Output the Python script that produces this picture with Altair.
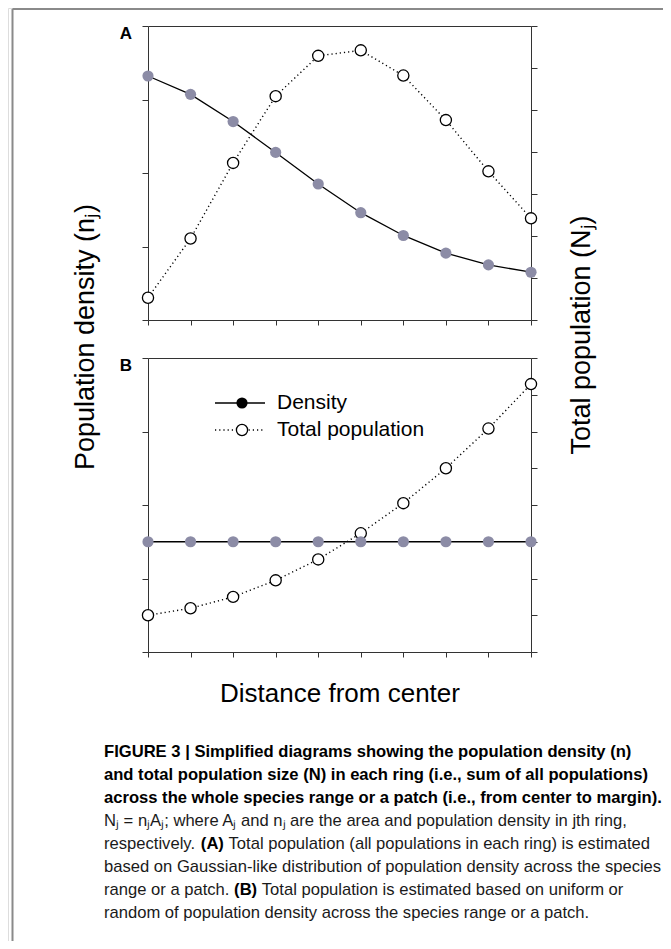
import altair as alt
import pandas as pd

# ---- data ----
dist = list(range(10))
density_a = [3.32, 3.07, 2.70, 2.28, 1.85, 1.46, 1.15, 0.91, 0.75, 0.65]
total_a = [0.53, 1.94, 3.74, 5.33, 6.29, 6.42, 5.82, 4.76, 3.54, 2.42]
density_b = [1.5, 1.5, 1.5, 1.5, 1.5, 1.5, 1.5, 1.5, 1.5, 1.5]
total_b = [1.00, 1.19, 1.50, 1.95, 2.52, 3.23, 4.05, 5.00, 6.08, 7.29]

left_ticks = [0, 1, 2, 3, 4]
right_ticks_a = list(range(8))
right_ticks_b = list(range(9))

y_title_left = "Population density (nⱼ)"
y_title_right = "Total population (Nⱼ)"
x_title = "Distance from center"
legend_labels = ["Density", "Total population"]
panel_labels = ["A", "B"]

caption_bold = [
    "FIGURE 3 | Simplified diagrams showing the population density (n)",
    "and total population size (N) in each ring (i.e., sum of all populations)",
    "across the whole species range or a patch (i.e., from center to margin).",
]
caption_regular = [
    "Nⱼ = nⱼAⱼ; where Aⱼ and nⱼ are the area and population density in jth ring,",
    "respectively.",
    "based on Gaussian-like distribution of population density across the species",
    "range or a patch.",
    "random of population density across the species range or a patch.",
]
caption_regular_rows = [3, 4, 5, 6, 7]
caption_tail = [
    "Total population (all populations in each ring) is estimated",
    "Total population is estimated based on uniform or",
]
caption_tail_rows = [4, 6]
caption_inline_bold = ["(A)", "(B)"]

W, H = 655, 933
FONT = "Liberation Sans, Arial, Helvetica, sans-serif"
CAP_FONT = "Liberation Sans, Arial, Helvetica, sans-serif"
CAP_SIZE = 16.6
AX = "#333333"
GRAY = "#8c8ca6"

XR = [140, 523]
A_R = [312, 18]
B_R = [644, 350]


def xenc(bottom_y=None, top_y=None):
    if bottom_y is not None:
        ax = alt.Axis(orient="bottom", offset=-(H - bottom_y), values=dist, labels=False,
                      title=None, grid=False, tickSize=5, domainColor=AX, tickColor=AX)
    else:
        ax = alt.Axis(orient="top", offset=-top_y, labels=False, ticks=False,
                      title=None, grid=False, domainColor=AX)
    return alt.X("d:Q", scale=alt.Scale(domain=[0, 9], range=XR, nice=False, zero=False), axis=ax)


def yenc(field, dom, rng, orient, values):
    off = -XR[0] if orient == "left" else -(W - XR[1])
    ax = alt.Axis(orient=orient, offset=off, values=values, labels=False, title=None,
                  grid=False, tickSize=6, domainColor=AX, tickColor=AX)
    return alt.Y(field + ":Q", scale=alt.Scale(domain=dom, range=rng, nice=False, zero=False), axis=ax)


dfa = pd.DataFrame({"d": dist, "dens": density_a, "tot": total_a})
dfb = pd.DataFrame({"d": dist, "dens": density_b, "tot": total_b})


def density_layer(df, rng, bottom_y):
    base = alt.Chart(df).encode(x=xenc(bottom_y=bottom_y),
                                y=yenc("dens", [0, 4], rng, "left", left_ticks))
    return alt.layer(
        base.mark_line(color="black", strokeWidth=1.3),
        base.mark_circle(size=125, color=GRAY, opacity=1),
    )


def total_layer(df, dom, rng, top_y, ticks):
    base = alt.Chart(df).encode(x=xenc(top_y=top_y),
                                y=yenc("tot", dom, rng, "right", ticks))
    return alt.layer(
        base.mark_line(color="black", strokeWidth=1.4, strokeDash=[1.2, 3]),
        base.mark_point(shape="circle", size=125, filled=True, fill="white",
                        stroke="black", strokeWidth=1.3, opacity=1),
    )


layer_a_tot = total_layer(dfa, [0, 7], A_R, 18, right_ticks_a)
layer_a_den = density_layer(dfa, A_R, 312)
layer_b_tot = total_layer(dfb, [0, 8], B_R, 350, right_ticks_b)
layer_b_den = density_layer(dfb, B_R, 644)

one = pd.DataFrame({"k": [0]})

# frame border
frame = alt.layer(
    alt.Chart(one).mark_rule(color="#8a8a8a", strokeWidth=2).encode(
        x=alt.value(4.5), y=alt.value(1), y2=alt.value(H)),
    alt.Chart(one).mark_rule(color="#8a8a8a", strokeWidth=2).encode(
        x=alt.value(4.5), x2=alt.value(W), y=alt.value(1)),
)

# panel letters
lab_a = alt.Chart(pd.DataFrame({"t": [panel_labels[0]]})).mark_text(
    font=FONT, fontSize=17, fontWeight="bold", align="center", baseline="middle"
).encode(x=alt.value(118), y=alt.value(26), text="t:N")
lab_b = alt.Chart(pd.DataFrame({"t": [panel_labels[1]]})).mark_text(
    font=FONT, fontSize=17, fontWeight="bold", align="center", baseline="middle"
).encode(x=alt.value(118), y=alt.value(358), text="t:N")

# axis titles
t_left = alt.Chart(pd.DataFrame({"t": [y_title_left]})).mark_text(
    font=FONT, fontSize=27, angle=270, align="center", baseline="middle"
).encode(x=alt.value(78), y=alt.value(329), text="t:N")
t_right = alt.Chart(pd.DataFrame({"t": [y_title_right]})).mark_text(
    font=FONT, fontSize=27, angle=270, align="center", baseline="middle"
).encode(x=alt.value(574), y=alt.value(327), text="t:N")
t_x = alt.Chart(pd.DataFrame({"t": [x_title]})).mark_text(
    font=FONT, fontSize=26, align="center", baseline="middle"
).encode(x=alt.value(332), y=alt.value(686), text="t:N")

# legend in panel B
leg = alt.layer(
    alt.Chart(one).mark_rule(color="black", strokeWidth=1.5).encode(
        x=alt.value(207), x2=alt.value(257), y=alt.value(395)),
    alt.Chart(one).mark_point(shape="circle", size=125, filled=True, color="black", opacity=1).encode(
        x=alt.value(234), y=alt.value(395)),
    alt.Chart(one).mark_rule(color="black", strokeWidth=1.3, strokeDash=[1.2, 3]).encode(
        x=alt.value(207), x2=alt.value(257), y=alt.value(422)),
    alt.Chart(one).mark_point(shape="circle", size=125, filled=True, fill="white", stroke="black",
                              strokeWidth=1.3, opacity=1).encode(x=alt.value(234), y=alt.value(422)),
    alt.Chart(pd.DataFrame({"t": [legend_labels[0]]})).mark_text(
        font=FONT, fontSize=21, align="left", baseline="middle").encode(
        x=alt.value(269), y=alt.value(395), text="t:N"),
    alt.Chart(pd.DataFrame({"t": [legend_labels[1]]})).mark_text(
        font=FONT, fontSize=21, align="left", baseline="middle").encode(
        x=alt.value(269), y=alt.value(422), text="t:N"),
)

# caption
cap_scale = alt.Scale(domain=[0, 7], range=[744, 905], nice=False, zero=False)
CX = 96
cap_df_b = pd.DataFrame({"i": list(range(len(caption_bold))), "t": caption_bold})
cap_df_r = pd.DataFrame({"i": caption_regular_rows, "t": caption_regular})
cap_b = alt.Chart(cap_df_b).mark_text(
    font=CAP_FONT, fontSize=CAP_SIZE, fontWeight="bold", align="left", baseline="middle", color="black"
).encode(x=alt.value(CX), y=alt.Y("i:Q", scale=cap_scale, axis=None), text="t:N")
cap_r = alt.Chart(cap_df_r).mark_text(
    font=CAP_FONT, fontSize=CAP_SIZE, align="left", baseline="middle", color="#1a1a1a"
).encode(x=alt.value(CX), y=alt.Y("i:Q", scale=cap_scale, axis=None), text="t:N")

# inline bold "(A)" / "(B)" and the rest of those lines (offsets from Arial metrics)
w_resp = 5.835 * CAP_SIZE      # "respectively. "
w_range = 7.838 * CAP_SIZE     # "range or a patch. "
w_par = 1.388 * CAP_SIZE + 0.278 * CAP_SIZE  # bold "(A)" + space
inline = []
for k, (row, lead) in enumerate(zip(caption_tail_rows, [w_resp, w_range])):
    inline.append(alt.Chart(pd.DataFrame({"i": [row], "t": [caption_inline_bold[k]]})).mark_text(
        font=CAP_FONT, fontSize=CAP_SIZE, fontWeight="bold", align="left", baseline="middle",
        color="black").encode(x=alt.value(CX + lead), y=alt.Y("i:Q", scale=cap_scale, axis=None),
                              text="t:N"))
    inline.append(alt.Chart(pd.DataFrame({"i": [row], "t": [caption_tail[k]]})).mark_text(
        font=CAP_FONT, fontSize=CAP_SIZE, align="left", baseline="middle",
        color="#1a1a1a").encode(x=alt.value(CX + lead + w_par), y=alt.Y("i:Q", scale=cap_scale, axis=None),
                                text="t:N"))

chart = alt.layer(
    frame, layer_a_tot, layer_a_den, layer_b_tot, layer_b_den,
    lab_a, lab_b, t_left, t_right, t_x, leg, cap_b, cap_r, *inline,
).resolve_scale(x="independent", y="independent").properties(
    width=W, height=H, autosize=alt.AutoSizeParams(type="none"), padding=0
).configure_view(stroke=None).configure(background="white")

chart.save("out.html", embed_options={"renderer": "svg", "actions": False})
